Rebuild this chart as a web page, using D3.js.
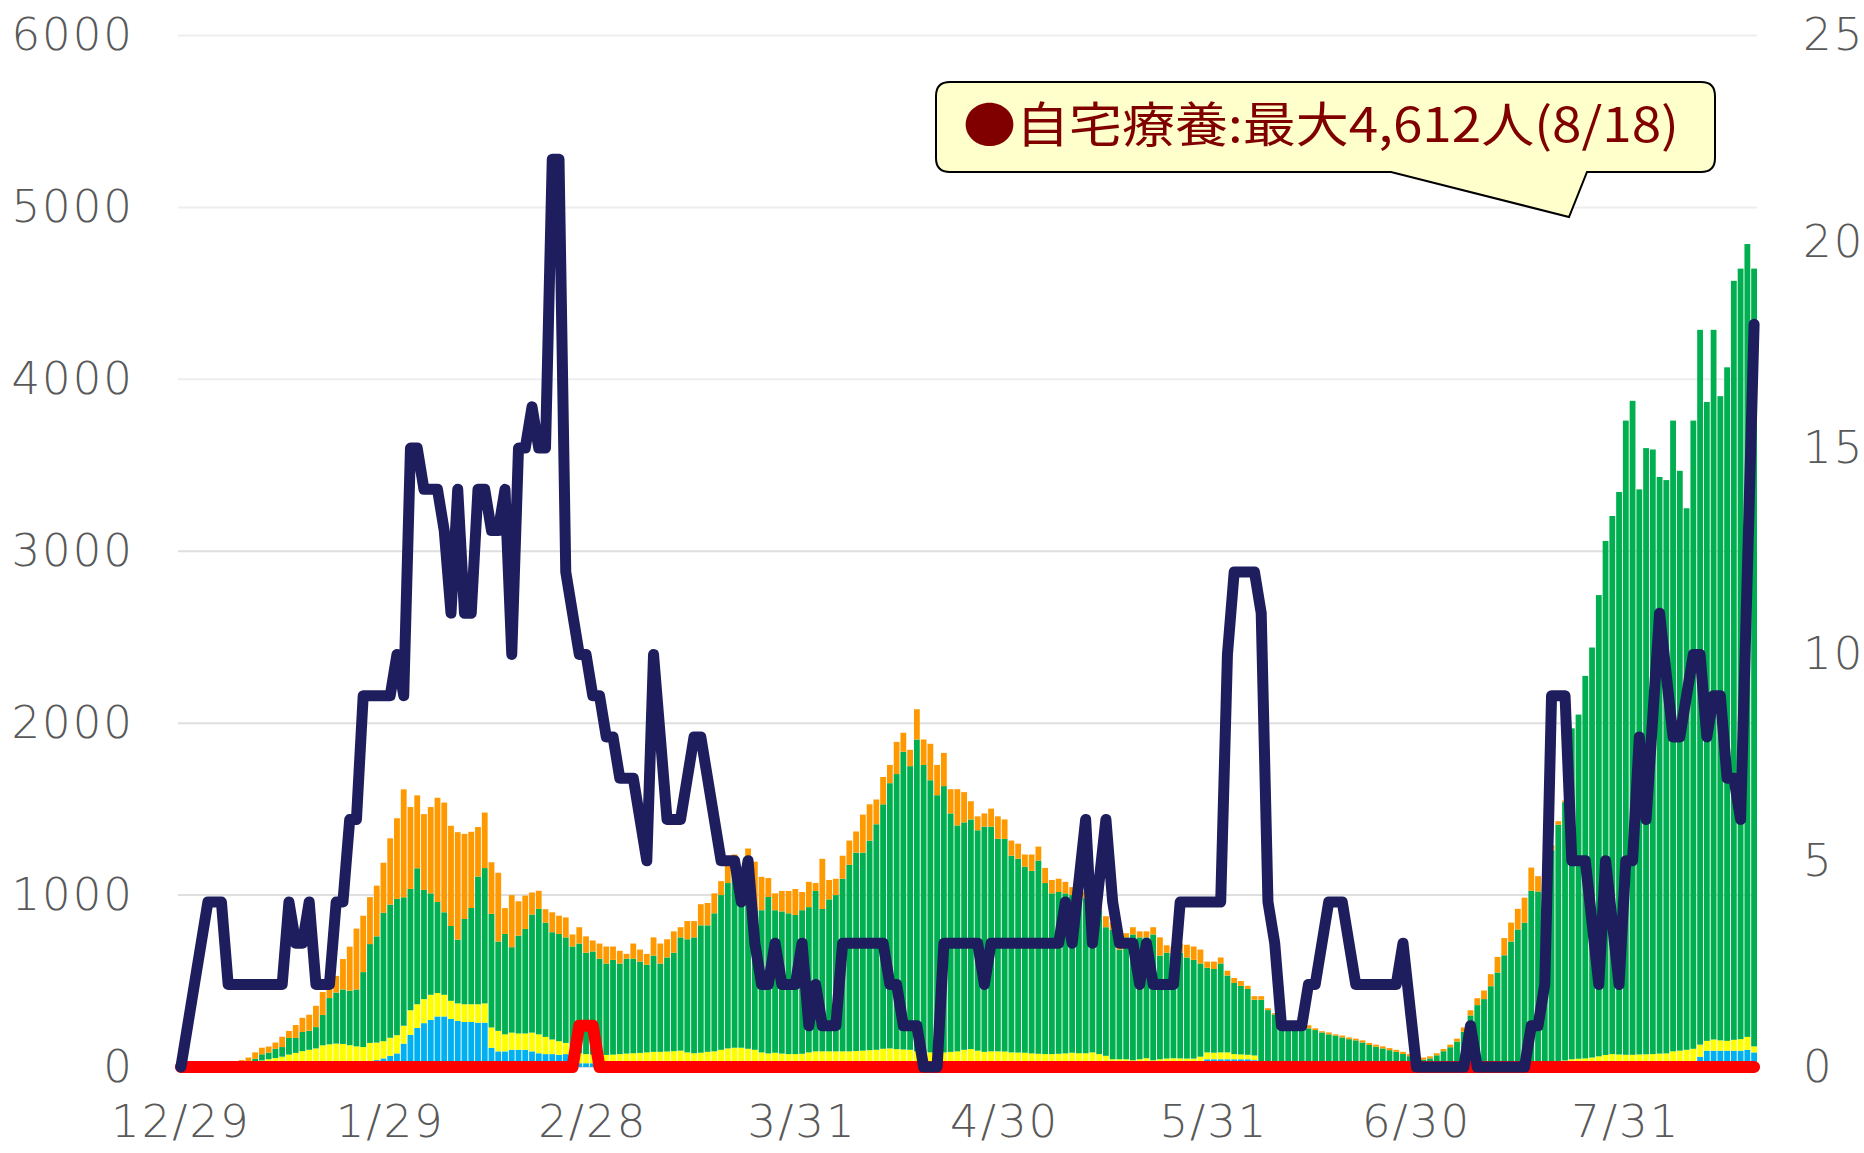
<!DOCTYPE html>
<html>
<head>
<meta charset="utf-8">
<script src="https://cdn.jsdelivr.net/npm/d3@7"></script>
<style>
body { margin: 0; background: #fff; }
</style>
</head>
<body>
<svg id="chart" width="1864" height="1153"></svg>
<script>
// 12/29 - 8/19, one bar per day
let dayList = d3.timeDay.range(new Date(2021, 11, 29), new Date(2022, 7, 20))
let fmtDay = d3.timeFormat("%-m/%-d")
let dayLabels = dayList.map(d => fmtDay(d))

let tickLabels = ["12/29", "1/29", "2/28", "3/31", "4/30", "5/31", "6/30", "7/31"]
let leftTicks = [0, 1000, 2000, 3000, 4000, 5000, 6000]
let rightTicks = [0, 5, 10, 15, 20, 25]

// stacked layers (bottom -> top)
let blueValues = [
    0,0,0,0,0,0,0,0,0,0,0,0,0,0,0,0,0,0,0,0,0,
    5,8,12,18,22,20,25,31,40,50,65,79,136,187,227,255,274,294,294,280,
    268,262,262,258,258,112,91,91,100,100,100,91,80,75,75,71,75,40,22,22,
    22,22,18,18,18,18,18,18,18,18,18,18,18,18,18,18,18,18,18,18,
    18,18,18,10,8,6,5,5,5,5,5,5,5,5,5,5,5,5,5,5,
    5,5,5,5,5,5,5,5,5,5,5,5,5,5,5,5,5,5,5,5,
    5,5,5,5,5,5,5,5,5,5,5,5,5,5,5,5,5,5,5,5,
    5,5,5,5,5,5,5,5,5,5,20,45,45,45,45,45,45,45,40,15,
    3,3,3,3,3,3,3,3,3,3,3,3,3,3,3,3,3,3,3,3,
    3,3,3,3,3,3,3,3,3,3,3,3,3,3,10,10,10,10,10,10,
    10,10,10,10,10,10,10,10,10,10,10,10,10,10,10,10,10,10,10,25,
    25,25,25,25,60,95,95,95,95,95,95,100,85
]
let yellowValues = [
    0,0,0,0,0,0,0,0,5,10,18,28,38,45,52,60,72,82,92,100,108,
    121,124,124,116,105,100,91,109,102,100,105,106,104,143,138,140,146,136,126,105,
    102,103,103,107,112,118,119,99,100,95,95,109,110,100,85,79,65,80,58,53,
    50,48,52,54,57,60,62,64,67,70,70,72,74,77,67,62,65,70,73,82,
    90,94,94,96,92,79,74,78,73,70,70,72,80,86,86,86,86,86,86,88,
    90,93,95,101,103,99,97,95,86,83,80,80,80,83,86,95,99,90,83,86,
    86,85,80,79,78,74,72,70,70,72,74,78,75,75,80,70,60,40,40,40,
    34,40,46,34,40,44,46,45,44,44,40,40,38,40,40,30,28,26,27,20,
    11,7,7,7,7,7,7,7,7,7,7,7,7,7,7,7,7,7,7,7,
    7,7,7,7,7,7,7,7,7,7,7,7,7,11,8,12,16,20,21,21,
    21,21,21,25,28,35,38,40,45,52,60,65,63,61,61,63,64,65,68,54,
    66,70,75,81,70,57,65,60,57,63,67,75,35
]
let greenValues = [
    0,0,0,0,0,0,0,0,5,8,14,20,36,39,54,56,97,87,112,111,124,
    177,269,297,317,317,331,436,575,618,747,775,793,747,706,791,635,590,530,480,435,
    371,496,560,743,787,661,520,584,497,569,608,687,730,665,624,624,614,581,638,590,
    600,560,532,551,527,552,550,531,510,560,514,547,573,659,658,674,741,736,803,900,
    962,1011,923,841,812,827,910,829,827,819,809,835,845,933,828,884,909,1004,1085,1154,
    1152,1219,1312,1422,1543,1600,1732,1650,1814,1669,1583,1496,1549,1387,1314,1323,1336,1282,1310,1307,
    1236,1237,1144,1127,1082,1062,1124,995,935,941,931,917,909,902,862,837,748,754,638,709,
    732,709,703,732,603,616,607,615,588,574,542,492,487,517,447,414,399,383,324,356,
    317,296,235,226,208,208,215,205,191,180,173,162,152,145,133,118,108,98,88,78,
    66,53,40,33,40,58,82,105,138,195,290,350,385,456,532,628,704,770,808,994,
    990,1024,1229,1375,1502,1925,2002,2225,2385,2683,2990,3130,3272,3689,3804,3287,3526,3517,3354,3335,
    3669,3373,3150,3654,4158,3716,4128,3747,3918,4415,4482,4612,4524
]
let orangeValues = [
    0,0,0,0,0,0,0,0,15,22,23,37,38,35,36,60,41,75,82,93,124,
    133,74,97,177,256,354,328,273,295,291,385,469,628,476,424,441,502,606,638,583,
    625,495,443,288,323,300,400,150,303,200,194,128,105,78,116,106,116,70,95,95,
    64,88,99,78,74,28,88,70,63,106,116,106,124,59,106,95,123,130,116,81,
    106,113,106,324,282,194,110,98,119,130,151,106,147,46,292,113,95,134,141,123,
    221,211,144,159,106,187,110,95,176,148,212,176,193,141,211,176,106,81,77,105,
    131,113,88,88,71,95,81,88,78,77,67,46,57,36,53,35,64,43,18,24,
    42,35,35,42,106,43,43,53,74,78,81,36,43,35,28,29,28,18,21,21,
    11,7,8,7,7,14,18,10,7,11,7,11,10,10,12,12,12,12,12,12,
    12,12,12,12,12,12,13,15,17,25,30,40,50,70,90,100,110,120,146,135,
    89,60,30,20,10,0,0,0,0,0,0,0,0,0,0,0,0,0,0,0,
    0,0,0,0,0,0,0,0,0,0,0,0,0
]

// lines on the right axis
let navyValues = [
    0,1,2,3,4,4,4,2,2,2,2,2,2,2,2,2,4,3,3,4,2,
    2,2,4,4,6,6,9,9,9,9,9,10,9,15,15,14,14,14,13,11,
    14,11,11,14,14,13,13,14,10,15,15,16,15,15,22,22,12,11,10,10,
    9,9,8,8,7,7,7,6,5,10,8,6,6,6,7,8,8,7,6,5,
    5,5,4,5,3,2,2,3,2,2,2,3,1,2,1,1,1,3,3,3,
    3,3,3,3,2,2,1,1,1,0,0,0,3,3,3,3,3,3,2,3,
    3,3,3,3,3,3,3,3,3,3,4,3,4.5,6,3,4.5,6,4,3,3,
    3,2,3,2,2,2,2,4,4,4,4,4,4,4,10,12,12,12,12,11,
    4,3,1,1,1,1,2,2,3,4,4,4,3,2,2,2,2,2,2,2,
    3,1.5,0,0,0,0,0,0,0,0,1,0,0,0,0,0,0,0,0,1,
    1,2,9,9,9,5,5,5,3.5,2,5,3.5,2,5,5,8,6,8.5,11,9.5,
    8,8,9,10,10,8,9,9,7,7,6,12,18
]
let redValues = [
    0,0,0,0,0,0,0,0,0,0,0,0,0,0,0,0,0,0,0,0,0,
    0,0,0,0,0,0,0,0,0,0,0,0,0,0,0,0,0,0,0,0,
    0,0,0,0,0,0,0,0,0,0,0,0,0,0,0,0,0,0,1,1,
    1,0,0,0,0,0,0,0,0,0,0,0,0,0,0,0,0,0,0,0,
    0,0,0,0,0,0,0,0,0,0,0,0,0,0,0,0,0,0,0,0,
    0,0,0,0,0,0,0,0,0,0,0,0,0,0,0,0,0,0,0,0,
    0,0,0,0,0,0,0,0,0,0,0,0,0,0,0,0,0,0,0,0,
    0,0,0,0,0,0,0,0,0,0,0,0,0,0,0,0,0,0,0,0,
    0,0,0,0,0,0,0,0,0,0,0,0,0,0,0,0,0,0,0,0,
    0,0,0,0,0,0,0,0,0,0,0,0,0,0,0,0,0,0,0,0,
    0,0,0,0,0,0,0,0,0,0,0,0,0,0,0,0,0,0,0,0,
    0,0,0,0,0,0,0,0,0,0,0,0,0
]

let calloutText = "●自宅療養:最大4,612人(8/18)"

let layerKeys = ["blue", "yellow", "green", "orange"]
let layerColors = { blue: "#00b0f0", yellow: "#ffff00", green: "#00b050", orange: "#ff9900" }

let svg = d3.select("#chart")
let axisFont = "'DejaVu Sans', sans-serif"

let x = d3.scaleBand().domain(dayLabels).range([178, 1757]).paddingInner(0.14)
let y = d3.scaleLinear().domain([0, 6000]).range([1067, 35.5])
let yRight = d3.scaleLinear().domain([0, 25]).range([1067, 35.5])

//グリッド
svg.append("g")
    .selectAll("line")
    .data(leftTicks)
    .enter()
    .append("line")
    .attr("x1", 178)
    .attr("x2", 1757)
    .attr("y1", d => y(d))
    .attr("y2", d => y(d))
    .style("stroke", d => d >= 4000 ? "#eeeeee" : "#dfdfdf")
    .style("stroke-width", 2)

// 積み上げ棒
let table = dayLabels.map((day, i) => ({
    day: day,
    blue: blueValues[i],
    yellow: yellowValues[i],
    green: greenValues[i],
    orange: orangeValues[i]
}))
let stacked = d3.stack().keys(layerKeys)(table)

svg.append("g")
    .selectAll("g")
    .data(stacked)
    .enter()
    .append("g")
    .style("fill", d => layerColors[d.key])
    .selectAll("rect")
    .data(d => d)
    .enter()
    .append("rect")
    .attr("x", d => x(d.data.day))
    .attr("width", x.bandwidth())
    .attr("y", d => y(d[1]))
    .attr("height", d => y(d[0]) - y(d[1]))

// 折れ線
let line = d3.line()
    .x((d, i) => x(dayLabels[i]) + x.bandwidth() / 2)
    .y(d => yRight(d))

svg.append("path")
    .datum(redValues)
    .attr("d", line)
    .style("fill", "none")
    .style("stroke", "#ff0000")
    .style("stroke-width", 12)
    .style("stroke-linejoin", "round")
    .style("stroke-linecap", "round")

svg.append("path")
    .datum(navyValues)
    .attr("d", line)
    .style("fill", "none")
    .style("stroke", "#1e1e5f")
    .style("stroke-width", 11)
    .style("stroke-linejoin", "round")
    .style("stroke-linecap", "round")

// 軸
function styleAxis(g) {
    g.select(".domain").remove()
    g.selectAll("text")
        .style("font-family", axisFont)
        .style("font-size", "45px")
        .style("font-weight", 300)
        .style("fill", "#595959")
        .style("letter-spacing", "2px")
}

svg.append("g")
    .attr("transform", "translate(134,0)")
    .call(d3.axisLeft(y).tickValues(leftTicks).tickFormat(d3.format("d")).tickSize(0).tickPadding(0))
    .call(styleAxis)

svg.append("g")
    .attr("transform", "translate(1803,0)")
    .call(d3.axisRight(yRight).tickValues(rightTicks).tickFormat(d3.format("d")).tickSize(0).tickPadding(0))
    .call(styleAxis)

svg.append("g")
    .attr("transform", "translate(0,1105)")
    .call(d3.axisBottom(x).tickValues(tickLabels).tickSize(0).tickPadding(0))
    .call(styleAxis)

// 吹き出し
let bx0 = 936, by0 = 82, bx1 = 1715, by1 = 172, br = 14
let bubble = d3.path()
bubble.moveTo(bx0 + br, by0)
bubble.lineTo(bx1 - br, by0)
bubble.quadraticCurveTo(bx1, by0, bx1, by0 + br)
bubble.lineTo(bx1, by1 - br)
bubble.quadraticCurveTo(bx1, by1, bx1 - br, by1)
bubble.lineTo(1587, by1)
bubble.lineTo(1569, 217)
bubble.lineTo(1391, by1)
bubble.lineTo(bx0 + br, by1)
bubble.quadraticCurveTo(bx0, by1, bx0, by1 - br)
bubble.lineTo(bx0, by0 + br)
bubble.quadraticCurveTo(bx0, by0, bx0 + br, by0)
bubble.closePath()

svg.append("path")
    .attr("d", bubble.toString())
    .style("fill", "#ffffcc")
    .style("stroke", "#000")
    .style("stroke-width", 2)

svg.append("text")
    .text(calloutText)
    .attr("x", 963)
    .attr("y", 142)
    .attr("textLength", 716)
    .attr("lengthAdjust", "spacingAndGlyphs")
    .style("fill", "#800000")
    .style("font-size", "48px")
    .style("font-family", "'Noto Sans CJK JP', sans-serif")
</script>
</body>
</html>
